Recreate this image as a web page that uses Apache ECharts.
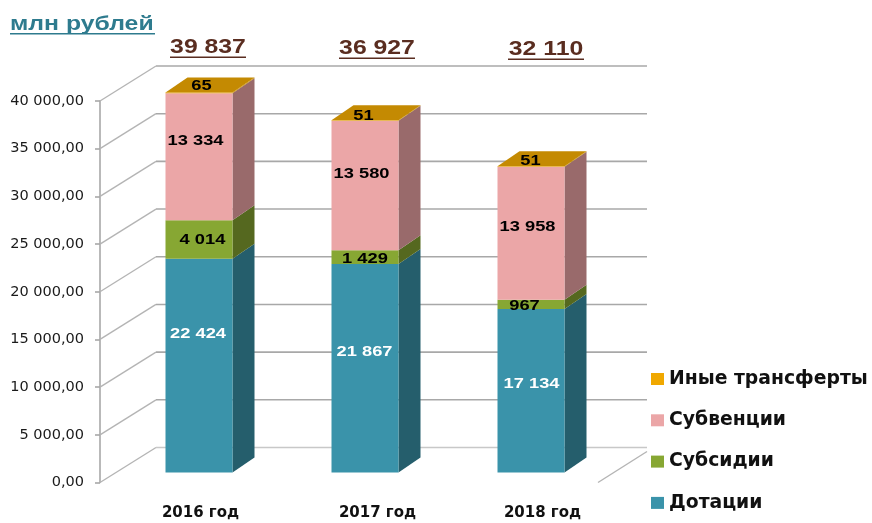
<!DOCTYPE html>
<html>
<head>
<meta charset="utf-8">
<script src="https://cdn.jsdelivr.net/npm/echarts@6/dist/echarts.min.js"></script>
<style>
html, body { margin: 0; padding: 0; background: #fff; }
#main { width: 872px; height: 523px; }
</style>
</head>
<body>
<div id="main"></div>
<script>
const categories = ['2016 год', '2017 год', '2018 год'];
const dotacii = [22424, 21867, 17134];
const subsidii = [4014, 1429, 967];
const subvencii = [13334, 13580, 13958];
const inye = [65, 51, 51];
const totals = [39837, 36927, 32110];
const yTicks = [0, 5000, 10000, 15000, 20000, 25000, 30000, 35000, 40000];

// label nudges in px, hand placed in the original
const dotaciiNudge = [[-1, -33], [-0.5, -18], [0.5, -8]];
const subsidiiNudge = [[3.5, -1], [0, 1], [-6.5, 0]];
const subvenciiNudge = [[-3.5, -17], [-3.5, -13], [-3.5, -8]];
const inyeNudge = [[2.5, -8], [-1.5, -6], [-0.5, -7]];
const totalX = [208, 377, 546];
const totalY = [47, 48, 49];
const catLabelPad = [[0, 0, 0, 35], [0, 0, 0, 57], [0, 0, 0, 55]];

const BAR_W = 67;
const STRETCH = 1.18; // the picture is a bit wider than tall
const wallDepth = [56, -35];
const floorShift = [16, -10];
const barDepth = [22, -15];
const gridColor = '#a8a8a8';

function fmt(v) {
    return String(v).replace(/\B(?=(\d{3})+$)/g, ' ');
}

function label(x, y, text, color) {
    return {
        type: 'text',
        x: x,
        y: y + 1,
        scaleX: STRETCH,
        z2: 20,
        style: {
            text: text,
            fill: color,
            font: 'bold 15.5px "Liberation Sans"',
            align: 'center',
            verticalAlign: 'middle'
        }
    };
}

function layerSeries(name, values, bases, front, side, nudge, textColor, isTop) {
    return {
        name: name,
        type: 'custom',
        z: 3,
        itemStyle: { color: front },
        encode: { x: 0, y: [1, 2] },
        data: values.map((v, i) => [i, bases[i], bases[i] + v, v]),
        renderItem: function (params, api) {
            const i = api.value(0);
            const b = api.coord([i, api.value(1)]);
            const t = api.coord([i, api.value(2)]);
            const l = b[0] - BAR_W / 2 + floorShift[0];
            const r = l + BAR_W;
            const yb = b[1] + floorShift[1];
            const yt = t[1] + floorShift[1];
            const dx = barDepth[0], dy = barDepth[1];
            const kids = [
                {
                    type: 'polygon',
                    shape: { points: [[r, yb], [r + dx, yb + dy], [r + dx, yt + dy], [r, yt]] },
                    style: { fill: side }
                },
                {
                    type: 'rect',
                    shape: { x: l, y: yt, width: BAR_W, height: yb - yt },
                    style: { fill: front }
                }
            ];
            if (isTop) {
                kids.push({
                    type: 'polygon',
                    shape: { points: [[l, yt], [l + dx, yt + dy], [r + dx, yt + dy], [r, yt]] },
                    style: { fill: '#c48a02' }
                });
            }
            kids.push(label((l + r) / 2 + nudge[i][0], (yb + yt) / 2 + nudge[i][1], fmt(api.value(3)), textColor));
            return { type: 'group', children: kids };
        }
    };
}

const base1 = dotacii.map(() => 0);
const base2 = dotacii.slice();
const base3 = dotacii.map((v, i) => v + subsidii[i]);
const base4 = base3.map((v, i) => v + subvencii[i]);

// back wall and the slanted lines of the floor/side
const wallSeries = {
    type: 'custom',
    z: 1,
    silent: true,
    encode: { x: 0, y: 1 },
    data: yTicks.map(v => [0, v]),
    renderItem: function (params, api) {
        const cs = params.coordSys;
        const y = api.coord([0, api.value(1)])[1];
        const x0 = cs.x;
        const x1 = cs.x + cs.width;
        const bx = x0 + wallDepth[0];
        const by = y + wallDepth[1];
        const isZero = api.value(1) === 0;
        const kids = [
            { type: 'line', shape: { x1: x0, y1: y, x2: bx, y2: by }, style: { stroke: '#b4b4b4', lineWidth: 1.4 } },
            { type: 'line', shape: { x1: bx, y1: by, x2: x1 + 49, y2: by }, style: { stroke: isZero ? '#c8c8c8' : gridColor, lineWidth: 1.6 } }
        ];
        if (isZero) {
            kids.push({ type: 'line', shape: { x1: x1, y1: y, x2: x1 + 49, y2: y - 31 }, style: { stroke: '#b4b4b4', lineWidth: 1.4 } });
        }
        return { type: 'group', children: kids };
    }
};

const totalsSeries = {
    type: 'custom',
    z: 4,
    silent: true,
    encode: { x: 0, y: 1 },
    data: totals.map((v, i) => [i, v]),
    renderItem: function (params, api) {
        const i = api.value(0);
        const x = totalX[i];
        const y = totalY[i];
        return {
            type: 'group',
            children: [
                {
                    type: 'text',
                    x: x,
                    y: y,
                    scaleX: STRETCH,
                    style: {
                        text: fmt(api.value(1)),
                        fill: '#5a2d20',
                        font: 'bold 21px "Liberation Sans"',
                        align: 'center',
                        verticalAlign: 'middle'
                    }
                },
                { type: 'rect', shape: { x: x - 38, y: y + 9.5, width: 76, height: 1.6 }, style: { fill: '#5a2d20' } }
            ]
        };
    }
};

const chart = echarts.init(document.getElementById('main'));
chart.setOption({
    backgroundColor: '#ffffff',
    animation: false,
    grid: { left: 100, top: 101, width: 498, height: 381.5 },
    xAxis: {
        type: 'category',
        data: categories.map((c, i) => ({ value: c, textStyle: { padding: catLabelPad[i] } })),
        axisLine: { show: false },
        axisTick: { show: false },
        axisLabel: {
            margin: 23,
            interval: 0,
            color: '#111',
            fontFamily: 'DejaVu Sans',
            fontWeight: 'bold',
            fontSize: 15
        }
    },
    yAxis: {
        type: 'value',
        min: 0,
        max: 40000,
        interval: 5000,
        splitLine: { show: false },
        axisLine: { show: true, lineStyle: { color: gridColor, width: 1.6 } },
        axisTick: { show: true, length: 5, lineStyle: { color: gridColor, width: 1.6 } },
        axisLabel: {
            margin: 16,
            padding: [3, 0, 0, 0],
            color: '#1a1a1a',
            fontFamily: 'DejaVu Sans',
            fontSize: 14.5,
            formatter: v => fmt(v) + ',00'
        }
    },
    legend: {
        orient: 'vertical',
        left: 651,
        top: 369.5,
        padding: 0,
        itemWidth: 13,
        itemHeight: 12,
        itemGap: 22.3,
        selectedMode: false,
        icon: 'rect',
        data: ['Иные трансферты', 'Субвенции', 'Субсидии', 'Дотации'],
        textStyle: {
            color: '#111',
            fontFamily: 'DejaVu Sans',
            fontWeight: 'bold',
            fontSize: 18.8
        }
    },
    graphic: [
        {
            type: 'text',
            x: 10,
            y: 24,
            scaleX: STRETCH,
            style: {
                text: 'млн рублей',
                fill: '#2e7b8e',
                font: 'bold 21px "Liberation Sans"',
                align: 'left',
                verticalAlign: 'middle'
            }
        },
        { type: 'rect', shape: { x: 10, y: 33, width: 145, height: 1.6 }, style: { fill: '#2e7b8e' } }
    ],
    series: [
        wallSeries,
        layerSeries('Дотации', dotacii, base1, '#3a93aa', '#255e6c', dotaciiNudge, '#ffffff', false),
        layerSeries('Субсидии', subsidii, base2, '#87a733', '#55681f', subsidiiNudge, '#000000', false),
        layerSeries('Субвенции', subvencii, base3, '#eba6a7', '#996a6b', subvenciiNudge, '#000000', false),
        layerSeries('Иные трансферты', inye, base4, '#f0a800', '#c48a02', inyeNudge, '#000000', true),
        totalsSeries
    ]
});
</script>
</body>
</html>
